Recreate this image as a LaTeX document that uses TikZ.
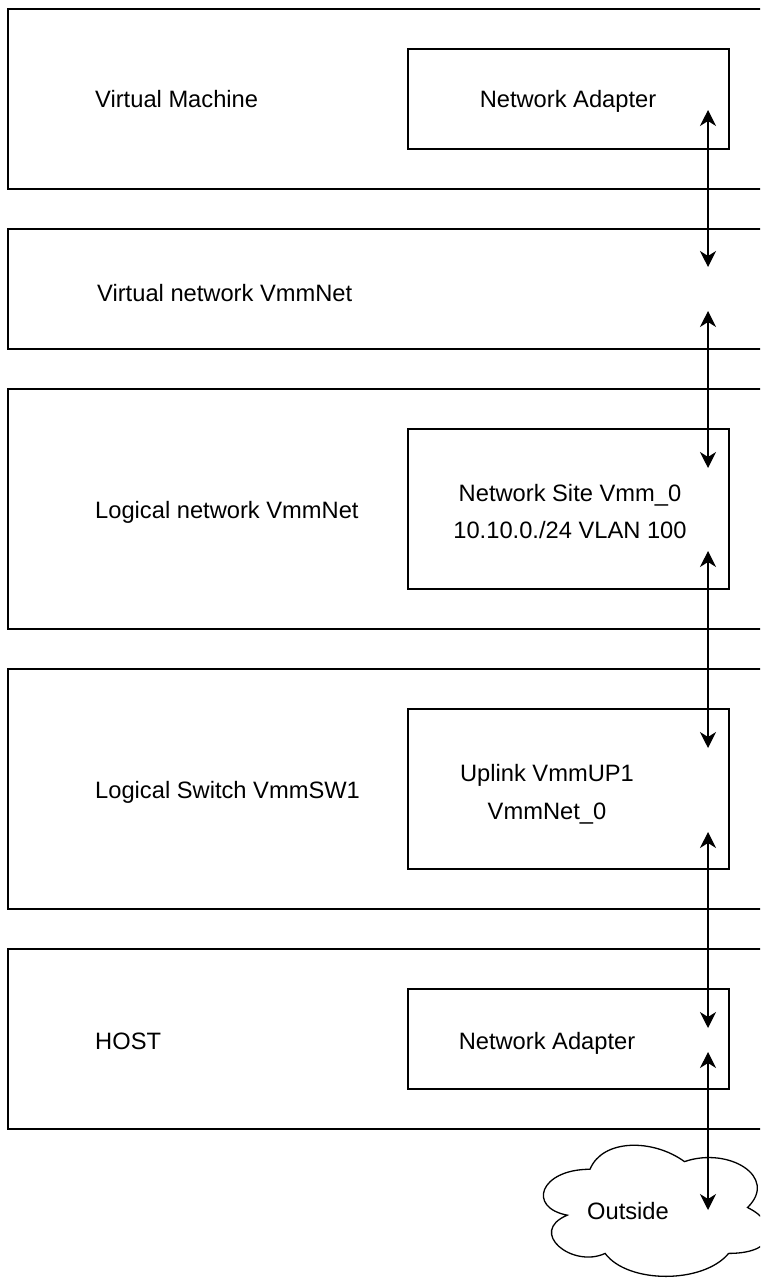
\documentclass[tikz,border=0pt]{standalone}
\usepackage{fontspec}
\setmainfont{Liberation Sans}
\usetikzlibrary{arrows.meta}
\begin{document}
\begin{tikzpicture}[x=1pt,y=-1pt,
  layerbox/.style={draw=black, line width=1.3pt, rectangle, inner sep=0pt, outer sep=0pt, minimum width=782pt},
  innerbox/.style={draw=black, line width=1.3pt, rectangle, inner sep=0pt, outer sep=0pt, minimum width=321pt},
  lbl/.style={font=\fontsize{23.7}{37}\selectfont, inner sep=0pt, anchor=base west},
  clbl/.style={font=\fontsize{23.7}{37}\selectfont, inner sep=0pt, anchor=base},
  conn/.style={line width=1.3pt, {Stealth[length=16pt,width=16pt,inset=5pt]}-{Stealth[length=16pt,width=16pt,inset=5pt]}},
  cloudline/.style={draw=black, line width=1.3pt, fill=white}
]
\clip (0,0) rectangle (760,1279);
\fill[white] (0,0) rectangle (760,1279);

% layers
\node[layerbox, minimum height=180pt] (vm) at (399,99) {};
\node[layerbox, minimum height=120pt] (vnet) at (399,289) {};
\node[layerbox, minimum height=240pt] (lnet) at (399,509) {};
\node[layerbox, minimum height=240pt] (lsw) at (399,789) {};
\node[layerbox, minimum height=180pt] (host) at (399,1039) {};

% inner boxes
\node[innerbox, minimum height=100pt] (vmna) at (568.5,99) {};
\node[innerbox, minimum height=160pt] (site) at (568.5,509) {};
\node[innerbox, minimum height=160pt] (uplink) at (568.5,789) {};
\node[innerbox, minimum height=100pt] (hostna) at (568.5,1039) {};

% labels
\node[lbl] (tvm) at (95,108) {Virtual Machine};
\node[clbl] (tvmna) at (568,108) {Network Adapter};
\node[lbl] (tvnet) at (97,301) {Virtual network VmmNet};
\node[lbl] (tlnet) at (95,518) {Logical network VmmNet};
\node[clbl] (tsite1) at (570,501) {Network Site Vmm\_0};
\node[clbl] (tsite2) at (570,538) {10.10.0./24 VLAN 100};
\node[lbl] (tlsw) at (95,798) {Logical Switch VmmSW1};
\node[clbl] (tup1) at (547,781) {Uplink VmmUP1};
\node[clbl] (tup2) at (547,819) {VmmNet\_0};
\node[lbl] (thost) at (95,1049) {HOST};
\node[clbl] (thostna) at (547,1049) {Network Adapter};

% cloud (x0=527, w=252, y0=1131, h=153)
\draw[cloudline] (590,1169.25)
  .. controls (539.6,1169.25) and (527,1207.5) .. (567.3,1215.15)
  .. controls (527,1232) and (572.4,1268.7) .. (605.1,1253.4)
  .. controls (627.8,1284) and (703.4,1284) .. (728.6,1253.4)
  .. controls (779,1253.4) and (779,1222.8) .. (747.5,1207.5)
  .. controls (779,1176.9) and (728.6,1146.3) .. (684.5,1161.6)
  .. controls (653,1138.65) and (602.6,1138.65) .. (590,1169.25) -- cycle;
\node[clbl] (out) at (628,1219) {Outside};

% connector end points
\coordinate (a1s) at (708,110);
\coordinate (a1e) at (708,267);
\coordinate (a2s) at (708,311);
\coordinate (a2e) at (708,468);
\coordinate (a3s) at (708,551);
\coordinate (a3e) at (708,748);
\coordinate (a4s) at (708,832);
\coordinate (a4e) at (708,1028);
\coordinate (a5s) at (708,1052);
\coordinate (a5e) at (708,1210);

\draw[conn] (a1s) -- (a1e);
\draw[conn] (a2s) -- (a2e);
\draw[conn] (a3s) -- (a3e);
\draw[conn] (a4s) -- (a4e);
\draw[conn] (a5s) -- (a5e);
\end{tikzpicture}
\end{document}
